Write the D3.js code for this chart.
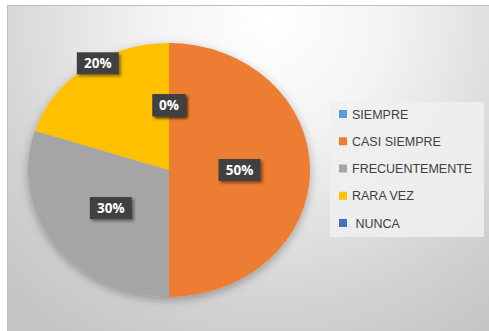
<!DOCTYPE html>
<html>
<head>
<meta charset="utf-8">
<script src="https://cdn.jsdelivr.net/npm/d3@7"></script>
<style>
  html, body { margin: 0; padding: 0; background: #ffffff; }
  svg { display: block; }
</style>
</head>
<body>
<svg id="chart" width="489" height="331"></svg>
<script>
// Survey answers and their share of responses (percent)
const categories = ["SIEMPRE", "CASI SIEMPRE", "FRECUENTEMENTE", "RARA VEZ", "NUNCA"];
const values = [0, 50, 30, 20, 0];
const legendLabels = ["SIEMPRE", "CASI SIEMPRE", "FRECUENTEMENTE", "RARA VEZ", " NUNCA"];
const valueLabels = ["0%", "50%", "30%", "20%", "0%"];

// Appearance
const colors = ["#5B9BD5", "#ED7D31", "#A5A5A5", "#FFC000", "#4472C4"];
const labelRadiusFactor = [0.51, 0.5, 0.51, 0.98, 0.51];
const labelAngleShiftDeg = [0, 0, 0, 5, 0];

const svg = d3.select("#chart");
const W = 489, H = 331;
const defs = svg.append("defs");

// Chart-area background: soft radial gradient
const bg = defs.append("radialGradient").attr("id", "bgGrad")
  .attr("gradientUnits", "userSpaceOnUse")
  .attr("cx", 270).attr("cy", 20).attr("r", 380)
  .attr("fx", 270).attr("fy", 20);
bg.append("stop").attr("offset", "0%").attr("stop-color", "#ffffff");
bg.append("stop").attr("offset", "30%").attr("stop-color", "#f4f4f4");
bg.append("stop").attr("offset", "75%").attr("stop-color", "#d3d3d3");
bg.append("stop").attr("offset", "100%").attr("stop-color", "#c4c4c4");

const pieShadow = defs.append("filter").attr("id", "pieShadow")
  .attr("x", "-20%").attr("y", "-20%").attr("width", "140%").attr("height", "140%");
pieShadow.append("feDropShadow").attr("dx", 0).attr("dy", 3)
  .attr("stdDeviation", 5).attr("flood-color", "#000").attr("flood-opacity", 0.3);

const boxShadow = defs.append("filter").attr("id", "boxShadow")
  .attr("x", "-30%").attr("y", "-30%").attr("width", "160%").attr("height", "160%");
boxShadow.append("feDropShadow").attr("dx", 2).attr("dy", 2)
  .attr("stdDeviation", 1.5).attr("flood-color", "#000").attr("flood-opacity", 0.45);

svg.append("rect").attr("x", 7.5).attr("y", 5.5)
  .attr("width", W).attr("height", H)
  .attr("fill", "url(#bgGrad)")
  .attr("stroke", "#bdbdbd").attr("stroke-width", 1);

// Pie (slightly wider than tall)
const cx = 169, cy = 170, rx = 141, ry = 127;
const data = categories.map((c, i) => ({ name: c, value: values[i], i }));
const pie = d3.pie().value(d => d.value).sort(null);
const arcs = pie(data);
const arc = d3.arc().innerRadius(0).outerRadius(rx);

const g = svg.append("g").attr("transform", `translate(${cx},${cy})`);
g.append("g").attr("filter", "url(#pieShadow)")
  .append("g").attr("transform", `scale(1,${ry / rx})`)
  .selectAll("path").data(arcs.filter(a => a.data.value > 0)).join("path")
  .attr("d", arc)
  .attr("fill", d => colors[d.data.i]);

// Value labels: dark boxes with white bold text
const lbl = g.append("g").selectAll("g").data(arcs).join("g")
  .attr("transform", d => {
    const k = labelRadiusFactor[d.data.i];
    const a = (d.startAngle + d.endAngle) / 2 + labelAngleShiftDeg[d.data.i] * Math.PI / 180;
    return `translate(${Math.sin(a) * k * rx},${-Math.cos(a) * k * ry})`;
  });
lbl.each(function(d) {
  const s = d3.select(this);
  const txt = valueLabels[d.data.i];
  const w = txt.length === 2 ? 33 : 42;
  s.append("rect").attr("x", -w / 2).attr("y", -11).attr("width", w).attr("height", 22)
    .attr("fill", "#404040").attr("filter", "url(#boxShadow)");
  s.append("text").attr("text-anchor", "middle").attr("dy", "0.36em")
    .attr("fill", "#ffffff").attr("font-family", "'Open Sans', 'Noto Sans', sans-serif")
    .attr("font-weight", "bold").attr("font-size", 13.5)
    .text(txt);
});

// Legend
const lg = svg.append("g");
lg.append("rect").attr("x", 330).attr("y", 102).attr("width", 154).attr("height", 135)
  .attr("fill", "#f0f0f0").attr("opacity", 0.85);
const y = d3.scalePoint().domain(categories).range([114, 223]);
const item = lg.selectAll("g.item").data(categories).join("g").attr("class", "item")
  .attr("transform", d => `translate(339,${y(d)})`);
item.append("rect").attr("x", 0).attr("y", -4).attr("width", 8).attr("height", 8)
  .attr("fill", (d, i) => colors[i]);
item.append("text").attr("x", 13).attr("dy", "0.36em")
  .attr("fill", "#404040").attr("font-family", "'Liberation Sans', Arial, sans-serif")
  .attr("font-size", 12.5).attr("xml:space", "preserve")
  .style("white-space", "pre")
  .text((d, i) => legendLabels[i]);
</script>
</body>
</html>
